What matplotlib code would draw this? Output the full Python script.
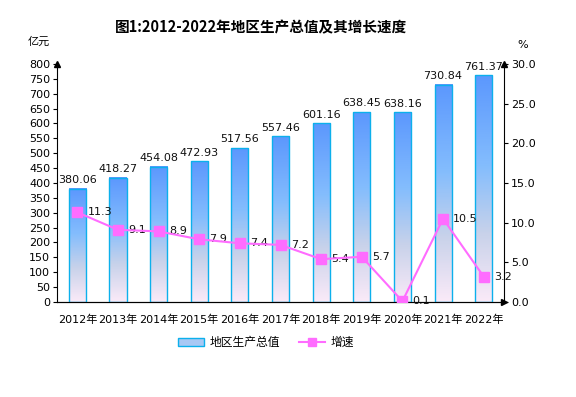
import numpy as np
import matplotlib
matplotlib.use("Agg")
import matplotlib.pyplot as plt
from matplotlib.colors import LinearSegmentedColormap
from matplotlib.patches import Patch
from matplotlib.lines import Line2D

plt.rcParams['font.family'] = ['DejaVu Sans', 'Noto Sans CJK SC']

years = ['2012年', '2013年', '2014年', '2015年', '2016年', '2017年',
         '2018年', '2019年', '2020年', '2021年', '2022年']
gdp = [380.06, 418.27, 454.08, 472.93, 517.56, 557.46, 601.16, 638.45, 638.16, 730.84, 761.37]
growth = [11.3, 9.1, 8.9, 7.9, 7.4, 7.2, 5.4, 5.7, 0.1, 10.5, 3.2]

fig = plt.figure(figsize=(5.76, 3.97), dpi=100)
ax = fig.add_axes([0.099, 0.2393, 0.776, 0.5995])
ax2 = ax.twinx()

x = np.arange(len(years))
bw = 0.42
cmap = LinearSegmentedColormap.from_list(
    'g', [(0.0, '#faeaf8'), (0.3, '#c8d2ea'), (0.6, '#84bdfd'), (1.0, '#5c98fd')])
grad = np.linspace(0, 1, 100).reshape(-1, 1)

for xi, v in zip(x, gdp):
    ax.imshow(grad, cmap=cmap, aspect='auto', origin='lower',
              extent=(xi - bw / 2, xi + bw / 2, 0, v), zorder=2)
ax.bar(x, gdp, bw, facecolor='none', edgecolor='#0cb0ec', linewidth=1.0, zorder=3)
for xi, v in zip(x, gdp):
    ax.text(xi, v + 12, f'{v:.2f}', ha='center', va='bottom', fontsize=8, color='#111111')

ax.set_xlim(-0.5, len(years) - 0.5)
ax.set_ylim(0, 800)
ax.set_yticks(np.arange(0, 801, 50))
ax.set_xticks(x)
ax.set_xticklabels(years, fontsize=8)
ax.tick_params(axis='x', length=0, pad=9)
ax.tick_params(axis='y', labelsize=8, length=3, direction='out', pad=2)
ax.spines['top'].set_visible(False)
ax.spines['right'].set_visible(False)

ax2.plot(x, growth, color='#ff6cff', linewidth=1.5, marker='s', markersize=7,
         markerfacecolor='#ff6cff', markeredgecolor='#ff6cff', zorder=5)
for xi, g in zip(x, growth):
    ax2.text(xi + 0.25, g, f'{g:.1f}', ha='left', va='center', fontsize=8, color='#111111')
ax2.set_ylim(0, 30)
ax2.set_yticks(np.arange(0, 30.1, 5))
ax2.set_yticklabels([f'{t:.1f}' for t in np.arange(0, 30.1, 5)])
ax2.tick_params(axis='y', labelsize=8, length=3, direction='out', pad=2)
ax2.spines['top'].set_visible(False)
ax2.spines['left'].set_visible(False)

# arrows on the axes
ax.plot([0], [1], marker='^', color='black', markersize=5, transform=ax.transAxes, clip_on=False)
ax.plot([1], [1], marker='^', color='black', markersize=5, transform=ax.transAxes, clip_on=False)
ax.plot([1], [0], marker='>', color='black', markersize=5, transform=ax.transAxes, clip_on=False)

fig.text(0.453, 0.932, '图1:2012-2022年地区生产总值及其增长速度', ha='center', va='center',
         fontsize=10.5, fontweight='bold', family=['Noto Sans CJK SC', 'DejaVu Sans'])
fig.text(0.068, 0.895, '亿元', ha='center', va='center', fontsize=8,
         family=['Noto Sans CJK SC', 'DejaVu Sans'])
fig.text(0.908, 0.887, '%', ha='center', va='center', fontsize=8)

handles = [Patch(facecolor='#a8c8f4', edgecolor='#0cb0ec', linewidth=1.0),
           Line2D([0], [0], color='#ff6cff', linewidth=1.5, marker='s', markersize=6)]
fig.legend(handles, ['地区生产总值', '增速'], loc='center', bbox_to_anchor=(0.462, 0.137),
           ncol=2, frameon=False, handlelength=2.2, handletextpad=0.5, columnspacing=1.6,
           prop={'family': ['Noto Sans CJK SC', 'DejaVu Sans'], 'size': 8.5})

fig.savefig('out.png', dpi=100)
